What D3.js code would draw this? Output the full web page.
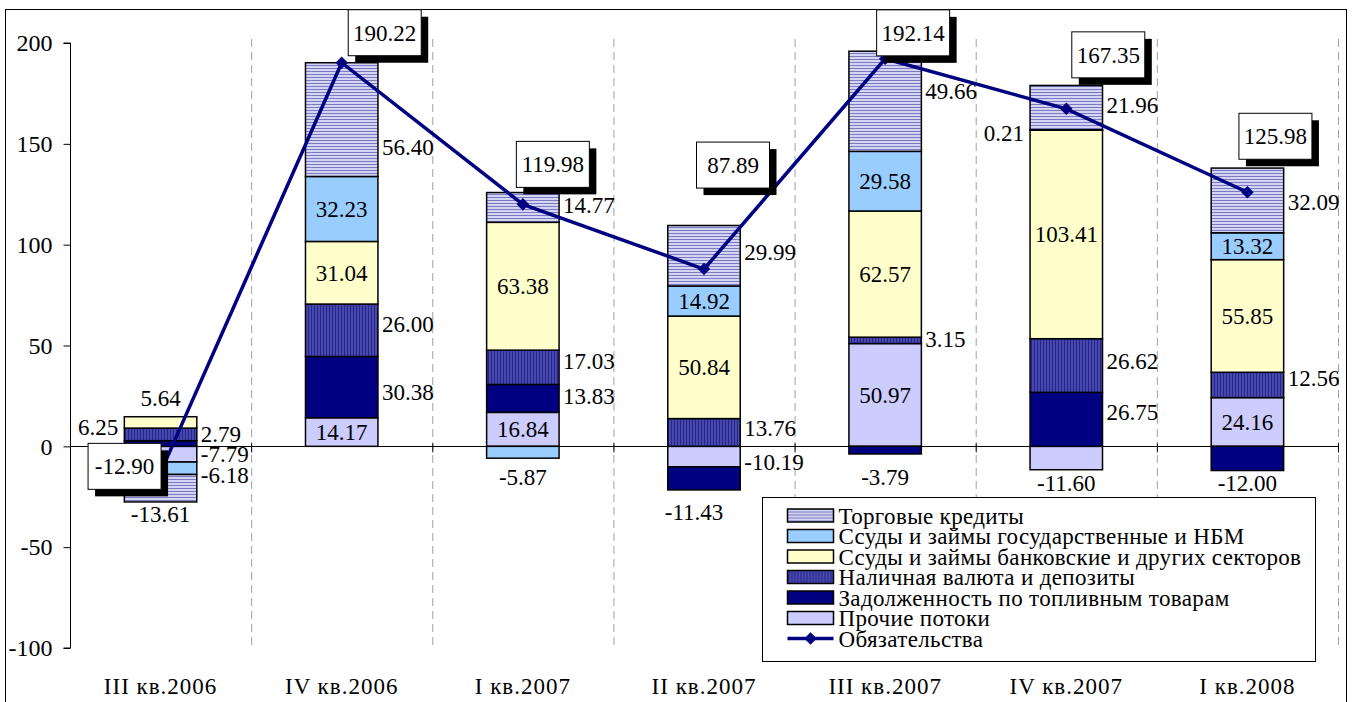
<!DOCTYPE html>
<html><head><meta charset="utf-8">
<script src="https://cdn.jsdelivr.net/npm/d3@7"></script>
<style>
html,body{margin:0;padding:0;background:#fff;}
svg{display:block;font-family:"Liberation Serif","Times New Roman",serif;}
</style></head>
<body>
<svg id="chart" width="1353" height="702" font-family="Liberation Serif"></svg>
<script>
// ---------- DATA ----------
const categories = ["III кв.2006","IV кв.2006","I кв.2007","II кв.2007","III кв.2007","IV кв.2007","I кв.2008"];
const seriesNames = ["Прочие потоки","Задолженность по топливным товарам","Наличная валюта и депозиты",
  "Ссуды и займы банковские и других секторов","Ссуды и займы государственные и НБМ","Торговые кредиты"];
const otherFlows   = [-7.79, 14.17, 16.84, -10.19, 50.97, -11.60, 24.16];
const fuelDebt     = [2.79, 30.38, 13.83, -11.43, -3.79, 26.75, -12.00];
const cashDeposits = [6.25, 26.00, 17.03, 13.76, 3.15, 26.62, 12.56];
const bankLoans    = [5.64, 31.04, 63.38, 50.84, 62.57, 103.41, 55.85];
const govLoans     = [-6.18, 32.23, -5.87, 14.92, 29.58, 0.21, 13.32];
const tradeCredits = [-13.61, 56.40, 14.77, 29.99, 49.66, 21.96, 32.09];
const liabilities  = [-12.90, 190.22, 119.98, 87.89, 192.14, 167.35, 125.98];
const lineName = "Обязательства";
const yTicks = [-100, -50, 0, 50, 100, 150, 200];

// ---------- LABEL PLACEMENT (manual, as in the original; "at" in value units) ----------
const labelPlacement = [
  [{p:"right",at:-3.8},{p:"in"},{p:"in"},{p:"right",at:-7.8},{p:"in"},{p:"center",at:-18.0},{p:"in"}],
  [{p:"right",at:6.1},{p:"right",at:26.9},{p:"right",at:24.9},{p:"center",at:-32.6,dx:-10},{p:"center",at:-15.2},{p:"right",at:17.0},{p:"center",at:-18.0}],
  [{p:"left",at:9.6},{p:"right",at:60.6},{p:"right",at:42.3},{p:"right",at:9.1},{p:"right",at:53.1},{p:"right",at:42.3},{p:"right",at:33.9}],
  [{p:"center",at:23.9},{p:"in"},{p:"in"},{p:"in"},{p:"in"},{p:"in"},{p:"in"}],
  [{p:"right",at:-14.2},{p:"in"},{p:"center",at:-15.2},{p:"in"},{p:"in"},{p:"left",at:155.6},{p:"in"}],
  [{p:"center",at:-33.6},{p:"right",at:148.4},{p:"right",at:119.6},{p:"right",at:96.3},{p:"right",at:176.0},{p:"right",at:169.2},{p:"right",at:121.0}]
];
const totalLabelOffsets = [[-36,-6],[43,-30],[30,-40],[29,-104],[28,-26],[42,-54],[28,-56]];

(function(){
const fmtLocale = d3.formatLocale({decimal:".", thousands:",", grouping:[3], currency:["",""], minus:"-"});
const fmt2 = fmtLocale.format(".2f"), fmtInt = fmtLocale.format("d");
const seriesValues = [otherFlows, fuelDebt, cashDeposits, bankLoans, govLoans, tradeCredits];
const table = categories.map((c,i)=>{const o={cat:c}; seriesNames.forEach((s,j)=>o[s]=seriesValues[j][i]); return o;});

const svg = d3.select("#chart");
const FF = "Liberation Serif";
const pL = 70, pR = 1338, pT = 43, pB = 648;
const x = d3.scaleBand().domain(categories).range([pL,pR]).padding(0);
const y = d3.scaleLinear().domain([-100,200]).range([pB,pT]);
const barW = x.bandwidth()*0.4;
const cx = c => x(c) + x.bandwidth()/2;

const defs = svg.append("defs");
const pTrade = defs.append("pattern").attr("id","pTrade").attr("patternUnits","userSpaceOnUse").attr("width",6).attr("height",3);
pTrade.append("rect").attr("width",6).attr("height",3).attr("fill","#d4d4f4");
pTrade.append("rect").attr("y",2).attr("width",6).attr("height",1).attr("fill","#7a7ac0");
const pCash = defs.append("pattern").attr("id","pCash").attr("patternUnits","userSpaceOnUse").attr("width",3).attr("height",6);
pCash.append("rect").attr("width",3).attr("height",6).attr("fill","#4848aa");
pCash.append("rect").attr("x",2).attr("width",1).attr("height",6).attr("fill","#262690");

const fills = ["#ccccff","#000080","url(#pCash)","#ffffcc","#99ccff","url(#pTrade)"];
const fs = 23;

svg.append("rect").attr("x",5.5).attr("y",9.5).attr("width",1341).attr("height",720)
  .attr("fill","none").attr("stroke","#000").attr("stroke-width",1);

const bounds = categories.map(c=>x(c)+x.bandwidth());
svg.append("g").selectAll("line").data(bounds).join("line")
  .attr("x1",d=>d+0.5).attr("x2",d=>d+0.5).attr("y1",pT-4).attr("y2",pB)
  .attr("stroke","#a0a0a0").attr("stroke-width",1).attr("stroke-dasharray","8,5");

const yAxis = svg.append("g").attr("transform",`translate(${pL+0.5},0)`)
  .call(d3.axisLeft(y).tickValues(yTicks).tickSize(7).tickPadding(11).tickFormat(fmtInt));
yAxis.attr("font-family",FF).attr("font-size",24);
yAxis.select(".domain").attr("stroke","#000").attr("d",`M-7,${y(200)}H0V${y(-100)}H-7`);
yAxis.selectAll(".tick line").attr("stroke","#000");
yAxis.selectAll("text").attr("fill","#000");

const stacked = d3.stack().keys(seriesNames).offset(d3.stackOffsetDiverging)(table);
const gBars = svg.append("g");
stacked.forEach((ser,si)=>{
  gBars.append("g").selectAll("rect").data(ser).join("rect")
    .attr("x",d=>cx(d.data.cat)-barW/2)
    .attr("y",d=>y(Math.max(d[0],d[1])))
    .attr("width",barW)
    .attr("height",d=>Math.abs(y(d[0])-y(d[1])))
    .attr("fill",fills[si]).attr("stroke","#000").attr("stroke-width",1.5);
});

svg.append("line").attr("x1",pL).attr("x2",pR+1).attr("y1",Math.round(y(0))+0.5).attr("y2",Math.round(y(0))+0.5)
  .attr("stroke","#000").attr("stroke-width",1);
svg.append("g").selectAll("line").data(bounds).join("line")
  .attr("x1",d=>d+0.5).attr("x2",d=>d+0.5).attr("y1",y(0)-3).attr("y2",y(0)+6).attr("stroke","#000");

svg.append("g").attr("font-family",FF).attr("font-size",23).attr("letter-spacing",1)
  .selectAll("text").data(categories).join("text")
  .attr("x",d=>cx(d)).attr("y",686).attr("dy","0.35em").attr("text-anchor","middle").text(d=>d);

const gLab = svg.append("g").attr("font-family",FF).attr("font-size",fs);
stacked.forEach((ser,si)=>{
  ser.forEach((d,ci)=>{
    const pl = labelPlacement[si][ci];
    const v = seriesValues[si][ci];
    const c = cx(d.data.cat);
    let tx, ty, anchor;
    if (pl.p==="in"){ tx=c; ty=y((d[0]+d[1])/2); anchor="middle"; }
    else if (pl.p==="right"){ tx=c+barW/2+4; ty=y(pl.at); anchor="start"; }
    else if (pl.p==="left"){ tx=c-barW/2-6; ty=y(pl.at); anchor="end"; }
    else { tx=c+(pl.dx||0); ty=y(pl.at); anchor="middle"; }
    gLab.append("text").attr("x",tx).attr("y",ty).attr("dy","0.35em").attr("text-anchor",anchor).text(fmt2(v));
  });
});

const line = d3.line().x((d,i)=>cx(categories[i])).y(d=>y(d));
svg.append("path").datum(liabilities).attr("d",line).attr("fill","none").attr("stroke","#000080").attr("stroke-width",3.5);
svg.append("g").selectAll("path").data(liabilities).join("path")
  .attr("transform",(d,i)=>`translate(${cx(categories[i])},${y(d)})`)
  .attr("d",d3.symbol(d3.symbolDiamond2,100)).attr("fill","#000080");

const bw=73, bh=46, sh=7;
const gTot = svg.append("g").attr("font-family",FF).attr("font-size",fs);
liabilities.forEach((v,i)=>{
  const px = cx(categories[i])+totalLabelOffsets[i][0], py = y(v)+totalLabelOffsets[i][1];
  gTot.append("rect").attr("x",px-bw/2+sh).attr("y",py-bh/2+sh).attr("width",bw).attr("height",bh).attr("fill","#000");
  gTot.append("rect").attr("x",px-bw/2).attr("y",py-bh/2).attr("width",bw).attr("height",bh)
    .attr("fill","#fff").attr("stroke","#000").attr("stroke-width",1);
  gTot.append("text").attr("x",px).attr("y",py).attr("dy","0.35em").attr("text-anchor","middle").text(fmt2(v));
});

const lg = svg.append("g").attr("transform","translate(762.5,497.5)").attr("font-family",FF);
lg.append("rect").attr("width",553).attr("height",164).attr("fill","#fff").attr("stroke","#000").attr("stroke-width",1);
const legendItems = seriesNames.map((s,i)=>({name:s, fill:fills[i], type:"box"})).reverse()
  .concat([{name:lineName, type:"line"}]);
const rowH = 20.5;
legendItems.forEach((it,i)=>{
  const ry = 18 + i*rowH;
  const g = lg.append("g").attr("transform",`translate(0,${ry})`);
  if (it.type==="box"){
    g.append("rect").attr("x",25).attr("y",-6.5).attr("width",46).attr("height",13)
      .attr("fill",it.fill).attr("stroke","#000").attr("stroke-width",1.5);
  } else {
    g.append("line").attr("x1",25).attr("x2",71).attr("y1",0).attr("y2",0).attr("stroke","#000080").attr("stroke-width",3.5);
    g.append("path").attr("transform","translate(48,0)").attr("d",d3.symbol(d3.symbolDiamond2,100)).attr("fill","#000080");
  }
  g.append("text").attr("x",76).attr("y",0).attr("dy","0.35em").attr("font-size",23).attr("letter-spacing",0.35).text(it.name);
});
})();
</script>
</body></html>
